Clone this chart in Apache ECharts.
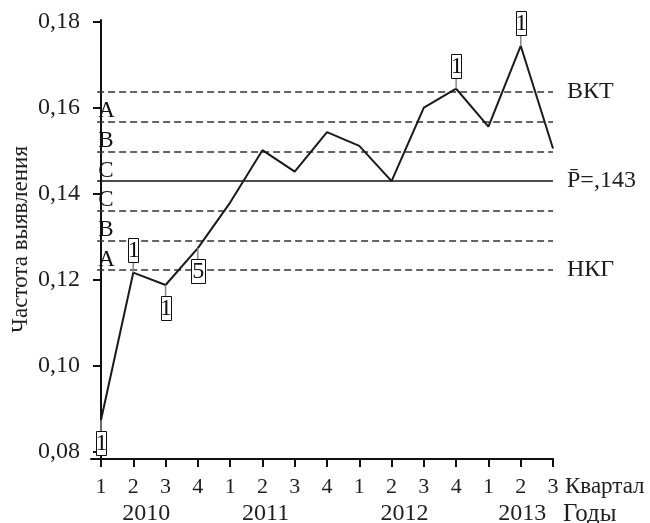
<!DOCTYPE html>
<html><head><meta charset="utf-8">
<script src="https://cdn.jsdelivr.net/npm/echarts@6/dist/echarts.min.js"></script>
<style>html,body{margin:0;padding:0;background:#fff}#c{width:650px;height:523px}</style>
</head><body><div id="c"></div>
<script>
const quarterLabels = ['1','2','3','4','1','2','3','4','1','2','3','4','1','2','3'];
const quarterPos = [0,1,2,3,4,5,6,7,8,9,10,11,12,13,14];
const yearLabels = ['2010','2011','2012','2013'];
const yearPos = [1.4, 5.1, 9.4, 13.05];
const values = [0.0874,0.1217,0.1188,0.1274,0.1380,0.1502,0.1452,0.1544,0.1512,0.1430,0.1601,0.1645,0.1557,0.1745,0.1506];
const ctrlLevels = [0.1637,0.1568,0.1499,0.1430,0.1361,0.1292,0.1223];
const zoneLabels = ['A','B','C','C','B','A'];
const endLabels = ['ВКТ','','','P\u0304=,143','','','НКГ'];
const flagIdx = [0,1,2,3,11,13];
const flagText = ['1','1','1','5','1','1'];
const flagDir = [-1,1,-1,-1,1,1];
const yTicks = [0.08,0.10,0.12,0.14,0.16,0.18];

const FF = '"Liberation Serif", "DejaVu Serif", serif';
const TC = '#1e1e1e';
const ctrlStart = -0.12, ctrlEnd = 14;

const chart = echarts.init(document.getElementById('c'), null, {renderer:'canvas'});
chart.setOption({
  backgroundColor:'#fff',
  animation:false,
  grid:{left:91,right:97,top:20,bottom:64,containLabel:false,outerBoundsMode:'none'},
  xAxis:[{
    type:'value', min:-0.31, max:14,
    axisLine:{show:true,onZero:false,lineStyle:{color:'#111',width:2}},
    axisTick:{show:true,length:8,customValues:quarterPos,lineStyle:{color:'#111',width:2}},
    axisLabel:{customValues:quarterPos,formatter:v=>quarterLabels[Math.round(v)],margin:17,fontSize:22,fontFamily:FF,color:TC},
    splitLine:{show:false},
    name:'Квартал', nameLocation:'end', nameGap:12, nameMoveOverlap:false,
    nameTextStyle:{fontSize:23,fontFamily:FF,color:TC,verticalAlign:'top',padding:[16,0,0,0]}
  },{
    type:'value', min:-0.31, max:14, position:'bottom', offset:30,
    axisLine:{show:false}, axisTick:{show:false}, splitLine:{show:false},
    axisLabel:{customValues:yearPos,formatter:v=>yearLabels[yearPos.indexOf(v)],margin:13,fontSize:24,fontFamily:FF,color:TC},
    name:'Годы', nameLocation:'end', nameGap:10, nameMoveOverlap:false,
    nameTextStyle:{fontSize:25,fontFamily:FF,color:TC,verticalAlign:'top',padding:[13,0,0,0]}
  }],
  yAxis:{
    type:'value', min:0.0783, max:0.1805,
    axisLine:{show:true,lineStyle:{color:'#111',width:2}},
    axisTick:{show:true,length:8,customValues:yTicks,lineStyle:{color:'#111',width:2}},
    axisLabel:{customValues:yTicks,formatter:v=>v.toFixed(2).replace('.',','),margin:11,fontSize:24,fontFamily:FF,color:TC},
    splitLine:{show:false},
    name:'Частота выявления', nameLocation:'middle', nameGap:59, nameMoveOverlap:false,
    nameTextStyle:{fontSize:23,fontFamily:FF,color:TC}
  },
  series:[{
    type:'line', data:values.map((v,i)=>[i,v]), symbol:'none', z:4,
    lineStyle:{color:'#1a1a1a',width:2},
    markLine:{
      silent:true, symbol:'none', z:1,
      data:ctrlLevels.map((v,k)=>[
        {coord:[ctrlStart,v],
         lineStyle:{color: k===3?'#111':'#333', width:1.5, type: k===3?'solid':[7,4]},
         label:{show:endLabels[k]!=='',position:'end',distance:14,formatter:endLabels[k],fontSize:24,fontFamily:FF,color:TC}},
        {coord:[ctrlEnd,v]}
      ])
    }
  },{
    type:'custom', z:3, silent:true,
    data:zoneLabels.map((t,k)=>[ctrlStart,ctrlLevels[k+1],k]),
    renderItem:(params,api)=>{
      const p = api.coord([api.value(0),api.value(1)]);
      return {type:'text',x:p[0]+1,y:p[1]+1,style:{text:zoneLabels[api.value(2)],fill:'#111',font:'23px "Liberation Serif"',align:'left',verticalAlign:'bottom'}};
    }
  },{
    type:'custom', z:6, silent:true,
    data:flagIdx.map((i,k)=>[i,values[i],k,flagDir[k]]),
    renderItem:(params,api)=>{
      const p = api.coord([api.value(0),api.value(1)]);
      const dir = api.value(3);
      const txt = flagText[api.value(2)];
      const w = txt==='5'?14:10, h = 24, gap = 11;
      const y0 = dir>0 ? p[1]-gap-h : p[1]+gap;
      const ly = dir>0 ? p[1]-gap : p[1]+gap;
      return {type:'group',children:[
        {type:'line',shape:{x1:p[0],y1:p[1],x2:p[0],y2:ly},style:{stroke:'#888',lineWidth:1.5}},
        {type:'rect',shape:{x:Math.round(p[0]-w/2)+0.5,y:Math.round(y0)+0.5,width:w,height:h},style:{fill:'#fff',stroke:'#111',lineWidth:1}},
        {type:'text',x:p[0]+0.5,y:y0+h/2+1,style:{text:txt,fill:'#111',font:'24px "Liberation Serif"',align:'center',verticalAlign:'middle'}}
      ]};
    }
  }]
});
</script></body></html>
